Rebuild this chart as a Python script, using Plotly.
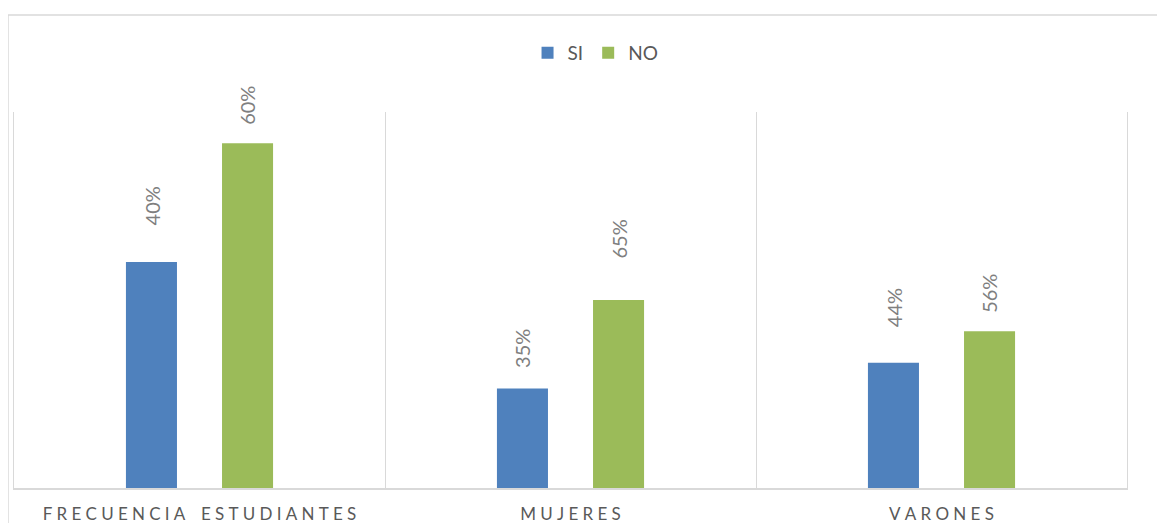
import plotly.graph_objects as go

BLUE = "#4f81bd"
GREEN = "#9bbb59"
GRID = "#d9d9d9"
LABEL_GRAY = "#7f7f7f"
TEXT_GRAY = "#595959"
FONT = "Lato, Calibri, sans-serif"

categories = ["FRECUENCIA  ESTUDIANTES", "MUJERES", "VARONES"]
series_names = ["SI", "NO"]
si_counts = [20.2, 8.9, 11.2]
no_counts = [30.8, 16.8, 14.0]
si_labels = ["40%", "35%", "44%"]
no_labels = ["60%", "65%", "56%"]

# lift of each label centre above its bar top (px), as placed in the original
si_lift = [56, 40, 55]
no_lift = [38, 61, 38]


def spaced(text):
    # mimic the wide character spacing of the category labels
    words = text.split()
    return "\u2004 \u2004".join("\u2005".join(w) for w in words)


tick_text = [spaced(c) for c in categories]

fig = go.Figure()
fig.add_trace(go.Bar(x=categories, y=si_counts, name=series_names[0],
                     marker=dict(color=BLUE, line=dict(width=0))))
fig.add_trace(go.Bar(x=categories, y=no_counts, name=series_names[1],
                     marker=dict(color=GREEN, line=dict(width=0))))

for vals, labels, lifts, shift in [(si_counts, si_labels, si_lift, -48),
                                   (no_counts, no_labels, no_lift, 48)]:
    for cat, v, lab, lift in zip(categories, vals, labels, lifts):
        fig.add_annotation(x=cat, y=v, text=lab, showarrow=False, textangle=-90,
                           xanchor="center", yanchor="middle", xshift=shift, yshift=lift,
                           font=dict(family=FONT, size=20, color=LABEL_GRAY))

# outer chart frame
fig.add_shape(type="rect", xref="paper", yref="paper", layer="below",
              x0=-0.0054, x1=1.05, y0=-0.2, y1=1.258,
              line=dict(color=GRID, width=1.5), fillcolor="rgba(0,0,0,0)")

# the page body keeps its 8px margin, so the figure is 8px smaller each way
fig.update_layout(
    width=1157,
    height=515,
    margin=dict(l=6, r=38, t=104, b=35, autoexpand=False),
    paper_bgcolor="white",
    plot_bgcolor="white",
    barmode="group",
    bargap=0.482,
    bargroupgap=0.469,
    showlegend=True,
    legend=dict(orientation="h", x=0.5225, xanchor="center", y=1.157, yanchor="middle",
                font=dict(family=FONT, size=19, color=TEXT_GRAY), bgcolor="rgba(0,0,0,0)",
                traceorder="normal", itemwidth=30),
    font=dict(family=FONT, color=TEXT_GRAY),
)
fig.update_xaxes(
    tickmode="array", tickvals=categories, ticktext=tick_text,
    tickson="boundaries", showgrid=True, gridcolor=GRID, gridwidth=1,
    showline=True, linecolor=GRID, linewidth=1.5, ticks="",
    ticklabelstandoff=10, automargin=False,
    tickfont=dict(family=FONT, size=17, color=TEXT_GRAY),
)
fig.update_yaxes(range=[0, 33.6], showticklabels=False, showgrid=False, zeroline=False,
                 showline=True, mirror=True, linecolor=GRID, linewidth=1, ticks="")

fig.write_html("out.html")
